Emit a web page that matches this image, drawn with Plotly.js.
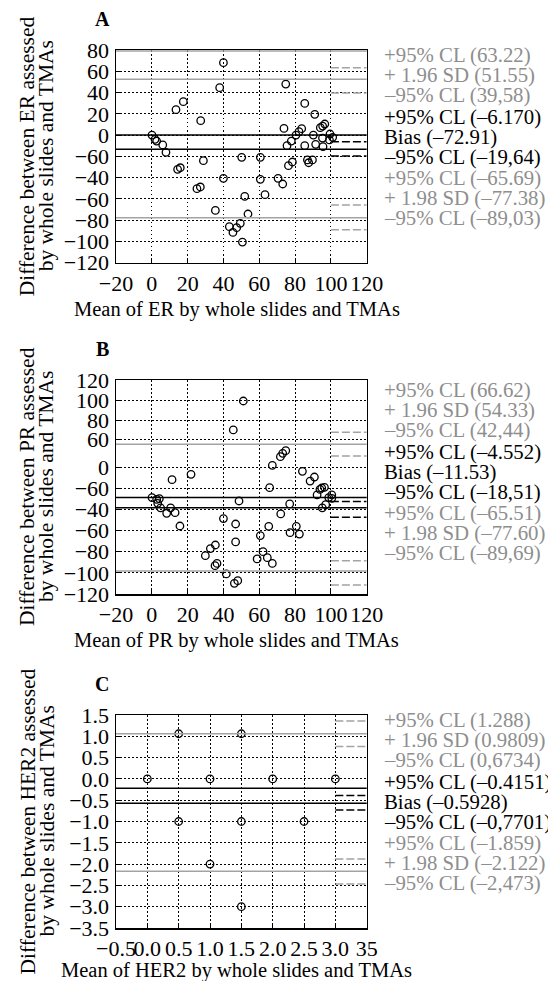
<!DOCTYPE html>
<html>
<head>
<meta charset="utf-8">
<script src="https://cdn.plot.ly/plotly-3.0.1.min.js"></script>
<style>html,body{margin:0;padding:0;background:#fff;}#chart{width:548px;height:981px;}</style>
</head>
<body>
<div id="chart"></div>
<script>
// ---------- Data ----------
// Panel A: ER
const erMean = [0.1,1.8,2.7,6.1,7.9,13.5,17.6,14.4,15.9,27.3,28.8,25.2,27.1,37.9,40,40,35.5,43.3,45.3,47.4,49.4,50.6,50.2,51.9,53.7,60.6,60.6,63.2,70.5,73.1,73.8,74.8,75.5,76.3,77.9,78.5,80.5,82.2,83.7,85.4,85.4,86.9,87.6,89.7,90.2,91,91.5,94.1,95.4,96.6,95.3,95.6,99.5,99.2,101];
const erDiff = [0,-4,-5.6,-9.3,-16.2,23.9,31.4,-32.2,-30.7,13.5,-24.1,-50.4,-48.8,44.6,68.1,-40.7,-70.8,-86.1,-91.5,-87.1,-83,-100.6,-20.9,-57.6,-74.2,-20.9,-41.6,-56,-40.7,-46,6.3,48,-10,-28.8,-5.6,-25.3,0,3.2,6,29.8,-10,-23.4,-26,-23.4,0,19.5,-8.7,7,8.5,10.4,-2.8,-10.9,1,-4.6,-2.1];
const erYTickVals = [80,60,40,20,0,-20,-40,-60,-80,-100,-120];
const erYTickText = ['80','60','40','20','0','−60','−40','−60','−80','−100','−120'];
const erSolidGray = [79, 52.4, -77.7];
const erSolidBlack = [0, -13.4];
const erDashGray = [63.22, 39.58, -65.69, -89.03];
const erDashBlack = [-6.17, -19.64];
const erLabels = ['+95% CL (63.22)','+ 1.96 SD (51.55)','–95% CL (39,58)','+95% CL (–6.170)','Bias (–72.91)','–95% CL (–19,64)','+95% CL (–65.69)','+ 1.98 SD (–77.38)','–95% CL (–89,03)'];

// Panel B: PR (y read in the plotted axis position)
const prMean = [0.1,2.7,4.2,3.3,4.9,8.3,10.5,13,11.3,15.7,21.9,29.9,32.7,35.5,35.3,36.4,40,41.6,45.5,46.1,48,46.8,46.8,48.7,51.1,58.8,60.6,62.1,64.5,67.3,65.3,65.8,67.3,71.8,73.1,74.8,72,77,77.2,80.7,82.4,84.1,88.4,90.8,92.3,93.9,94.9,96.4,95.2,97.1,98.8,100.5,100.5];
const prDiff = [-28.7,-30.3,-29.7,-34.1,-38.5,-43.6,-38.5,-43,-11.7,-55.6,-6.6,-83.7,-77,-73.6,-93.2,-91,-48.6,-101,35.4,-109.9,-107.4,-53.7,-70.7,-31.9,62.8,-86.8,-64.7,-79.9,-85.6,-91,-55.9,-19.3,1.9,10.1,13.2,15.8,-44.2,-34.7,-61.9,-55.9,-63.2,-3.8,-13,-9.2,-26.2,-20.9,-19.6,-19,-38.5,-35.4,-28.7,-26.2,-29.4];
const prYTickVals = [82.7,63.1,44.8,26.8,0,-20,-40,-60,-80,-100,-120];
const prYTickText = ['120','100','80','60','0','−60','−40','−60','−80','−100','−120'];
const prSolidGray = [21.8, -98.2];
const prSolidBlack = [-28.7, -38.2];
const prDashGray = [33.1, 10.7, -88.4, -111.5];
const prDashBlack = [-32.5, -47.4];
const prLabels = ['+95% CL (66.62)','+ 1.96 SD (54.33)','–95% CL (42,44)','+95% CL (–4.552)','Bias (–11.53)','–95% CL (–18,51)','+95% CL (–65.51)','+ 1.98 SD (–77.60)','–95% CL (–89,69)'];

// Panel C: HER2
const herMean = [0,0.5,1.5,1,2,3,0.5,1.5,2.5,1,1.5];
const herDiff = [0,1.06,1.06,0,0,0,-1,-1,-1,-2,-3];
const herYTickVals = [1.5,1,0.5,0,-0.5,-1,-1.5,-2,-2.5,-3,-3.5];
const herYTickText = ['1.5','1.0','0.5','0.0','−0.5','−1.0','−1.5','−2.0','−2.5','−3.0','−3.5'];
const herXTickVals = [-0.5,0,0.5,1,1.5,2,2.5,3,3.5];
const herXTickText = ['−0.5','0.0','0.5','1.0','1.5','2.0','2.5','3.0','35'];
const herSolidGray = [1.06, -2.17];
const herSolidBlack = [-0.22, -0.57];
const herDashGray = [1.36, 0.76, -1.88, -2.47];
const herDashBlack = [-0.39, -0.73];
const herLabels = ['+95% CL (1.288)','+ 1.96 SD (0.9809)','–95% CL (0,6734)','+95% CL (–0.4151)','Bias (–0.5928)','–95% CL (–0,7701)','+95% CL (–1.859)','+ 1.98 SD (–2.122)','–95% CL (–2,473)'];

const erXTickVals = [-20,0,20,40,60,80,100,120];
const erXTickText = ['−20','0','20','40','60','80','100','120'];
const dashStartER = 100, dashStartHER = 3.0;
const labelColors = ['gray','gray','gray','black','black','black','gray','gray','gray'];

// ---------- Layout helpers ----------
const W = 548, H = 981;
const FONT = '"Liberation Serif", "Times New Roman", serif';
const GRAY = '#a3a3a3', GRAYTXT = '#8e8e8e';
const fx = p => p / W, fy = p => 1 - p / H;

const panels = [
  {key:'', top:50, bottom:262.7, letter:'A', mean:erMean, diff:erDiff, xr:[-20,120], xtv:erXTickVals, xtt:erXTickText,
   yr:[-120,80], ytv:erYTickVals, ytt:erYTickText, sg:erSolidGray, sb:erSolidBlack, dg:erDashGray, db:erDashBlack, ds:dashStartER,
   labels:erLabels, lab0:55, xt:309, ytitle:'Difference between ER assessed', xtitle:'Mean of ER by whole slides and TMAs'},
  {key:'2', top:380, bottom:594, letter:'B', mean:prMean, diff:prDiff, xr:[-20,120], xtv:erXTickVals, xtt:erXTickText,
   yr:[-120,82.7], ytv:prYTickVals, ytt:prYTickText, sg:prSolidGray, sb:prSolidBlack, dg:prDashGray, db:prDashBlack, ds:dashStartER,
   labels:prLabels, lab0:390, xt:640, ytitle:'Difference between PR assessed', xtitle:'Mean of PR by whole slides and TMAs'},
  {key:'3', top:715, bottom:928, letter:'C', mean:herMean, diff:herDiff, xr:[-0.5,3.5], xtv:herXTickVals, xtt:herXTickText,
   yr:[-3.5,1.5], ytv:herYTickVals, ytt:herYTickText, sg:herSolidGray, sb:herSolidBlack, dg:herDashGray, db:herDashBlack, ds:dashStartHER,
   labels:herLabels, lab0:720, xt:970, ytitle:'Difference between HER2 assessed', xtitle:'Mean of HER2 by whole slides and TMAs'}
];
const labOffsets = [0,20,40,62,82,102,123,143,163];
const plotLeft = 116, plotRight = 366.7;

const traces = [], shapes = [], annotations = [];
const layout = {
  width: W, height: H, margin:{l:0,r:0,t:0,b:0},
  paper_bgcolor:'#fff', plot_bgcolor:'#fff', showlegend:false,
  font:{family:FONT, size:20, color:'#000'}
};

panels.forEach(p => {
  const xa = 'xaxis' + p.key, ya = 'yaxis' + p.key;
  const xr = 'x' + p.key, yr = 'y' + p.key;
  const common = {showline:true, mirror:true, linecolor:'#000', linewidth:1.5,
    showgrid:true, gridcolor:'#000', gridwidth:1, griddash:'1.5px,2.5px', zeroline:false,
    ticks:'inside', ticklen:4, tickcolor:'#000', tickfont:{family:FONT, size:22, color:'#000'}, fixedrange:true};
  layout[xa] = Object.assign({}, common, {domain:[fx(plotLeft), fx(plotRight)], anchor:yr, range:p.xr,
    tickmode:'array', tickvals:p.xtv, ticktext:p.xtt, tickangle:0, ticklabelstandoff:0});
  layout[ya] = Object.assign({}, common, {domain:[fy(p.bottom), fy(p.top)], anchor:xr, range:p.yr,
    tickmode:'array', tickvals:p.ytv, ticktext:p.ytt, ticklabelstandoff:1});

  traces.push({type:'scatter', mode:'markers', x:p.mean, y:p.diff, xaxis:xr, yaxis:yr, cliponaxis:false,
    marker:{symbol:'circle-open', size:7.5, color:'#000', line:{width:1.3, color:'#000'}}, hoverinfo:'x+y'});

  p.sg.forEach(v => shapes.push({type:'line', xref:xr+' domain', yref:yr, x0:0, x1:1, y0:v, y1:v, line:{color:GRAY, width:1.5}}));
  p.sb.forEach(v => shapes.push({type:'line', xref:xr+' domain', yref:yr, x0:0, x1:1, y0:v, y1:v, line:{color:'#000', width:1.5}}));
  p.dg.forEach(v => shapes.push({type:'line', xref:xr, yref:yr, x0:p.ds, x1:p.xr[1], y0:v, y1:v, line:{color:GRAY, width:1.5, dash:'8px,3px'}}));
  p.db.forEach(v => shapes.push({type:'line', xref:xr, yref:yr, x0:p.ds, x1:p.xr[1], y0:v, y1:v, line:{color:'#000', width:1.5, dash:'8px,3px'}}));

  p.labels.forEach((t,i) => annotations.push({xref:'paper', yref:'paper', x:fx(382), y:fy(p.lab0 + labOffsets[i]),
    xanchor:'left', yanchor:'middle', showarrow:false, text:t,
    font:{family:FONT, size:20.8, color: labelColors[i]==='gray' ? GRAYTXT : '#000'}}));

  const mid = (p.top + p.bottom) / 2;
  const lines = [p.ytitle, 'by whole slides and TMAs'];
  [27, 46].forEach((xpx, i) => annotations.push({xref:'paper', yref:'paper', x:fx(xpx), y:fy(mid),
    xanchor:'center', yanchor:'middle', showarrow:false, textangle:-90, text:lines[i],
    font:{family:FONT, size:21.5, color:'#000'}}));

  annotations.push({xref:'paper', yref:'paper', x:fx(236.5), y:fy(p.xt), xanchor:'center', yanchor:'middle',
    showarrow:false, text:p.xtitle, font:{family:FONT, size:20.5, color:'#000'}});
  annotations.push({xref:'paper', yref:'paper', x:fx(102), y:fy(p.top - 31), xanchor:'center', yanchor:'middle',
    showarrow:false, text:'<b>'+p.letter+'</b>', font:{family:FONT, size:20, color:'#000'}});
});

layout.shapes = shapes;
layout.annotations = annotations;
Plotly.newPlot('chart', traces, layout, {displayModeBar:false, staticPlot:true});
</script>
</body>
</html>
